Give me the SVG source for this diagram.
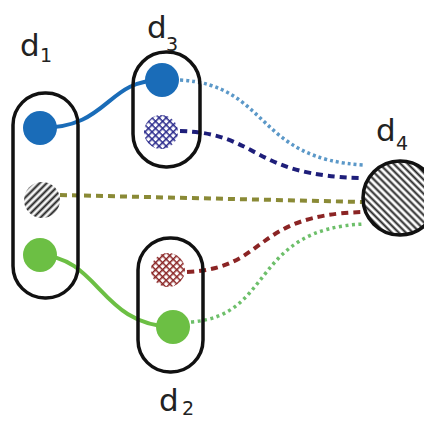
<svg xmlns="http://www.w3.org/2000/svg" width="424" height="421" viewBox="0 0 424 421">
<style>
.box{fill:none;stroke:#111;stroke-width:3.5}
.lbl{font-family:"DejaVu Sans",sans-serif;font-size:31px;fill:#222}
.sub{font-family:"DejaVu Sans",sans-serif;font-size:19px;fill:#222}
.c{fill:none}
</style>
<defs>
<pattern id="hatchR" width="5" height="5" patternUnits="userSpaceOnUse" patternTransform="rotate(-45)">
<rect width="5" height="5" fill="#f4f4f4"/>
<line x1="0" y1="2.5" x2="5" y2="2.5" stroke="#222" stroke-width="2"/>
</pattern>
<pattern id="hatchL" width="5" height="5" patternUnits="userSpaceOnUse" patternTransform="rotate(45)">
<rect width="5" height="5" fill="#fff"/>
<line x1="0" y1="2.5" x2="5" y2="2.5" stroke="#222" stroke-width="2"/>
</pattern>
<pattern id="xNavy" width="5" height="5" patternUnits="userSpaceOnUse" patternTransform="rotate(45)">
<rect width="5" height="5" fill="#fff"/>
<line x1="0" y1="0" x2="5" y2="0" stroke="#26268a" stroke-width="3"/>
<line x1="0" y1="0" x2="0" y2="5" stroke="#26268a" stroke-width="3"/>
</pattern>
<pattern id="xRed" width="5" height="5" patternUnits="userSpaceOnUse" patternTransform="rotate(45)">
<rect width="5" height="5" fill="#fff"/>
<line x1="0" y1="0" x2="5" y2="0" stroke="#8a2424" stroke-width="3"/>
<line x1="0" y1="0" x2="0" y2="5" stroke="#8a2424" stroke-width="3"/>
</pattern>
</defs>
<rect width="424" height="421" fill="#fff"/>
<g id="connectors">
<path class="c" d="M40 128 C110 128 105 80 162 80" stroke="#1a6cb8" stroke-width="4"/>
<path class="c" d="M40 255 C100 258 100 325 173 327" stroke="#6cbf44" stroke-width="4"/>
<path class="c" d="M180 80 C270 85 255 160 365 165" stroke="#5b98c8" stroke-width="3.5" stroke-dasharray="3 3"/>
<path class="c" d="M180 131 C260 133 250 176 363 178" stroke="#1e1e7a" stroke-width="4" stroke-dasharray="7 5"/>
<path class="c" d="M60 195 L363 202" stroke="#8a8a36" stroke-width="4" stroke-dasharray="7 5"/>
<path class="c" d="M187 272 C270 268 250 215 363 212" stroke="#8b2424" stroke-width="4" stroke-dasharray="7 5"/>
<path class="c" d="M191 322 C275 316 250 228 365 224" stroke="#6dbf6a" stroke-width="3.5" stroke-dasharray="3 3.5"/>
</g>
<g id="d1">
<rect class="box" x="13" y="93" width="65" height="205" rx="32" ry="32"/>
<circle cx="40" cy="128" r="17" fill="#1a6cb8"/>
<circle cx="42" cy="200" r="18" fill="url(#hatchR)"/>
<circle cx="40" cy="255" r="17" fill="#6cbf44"/>
<text class="lbl" x="20" y="56">d</text><text class="sub" x="40" y="62">1</text>
</g>
<g id="d3">
<rect class="box" x="133" y="52" width="67" height="115" rx="33" ry="33"/>
<circle cx="162" cy="80" r="17" fill="#1a6cb8"/>
<circle cx="161" cy="132" r="17" fill="url(#xNavy)"/>
<text class="lbl" x="147" y="38">d</text><text class="sub" x="166" y="51">3</text>
</g>
<g id="d2">
<rect class="box" x="138" y="238" width="65" height="134" rx="32" ry="32"/>
<circle cx="168" cy="270" r="17" fill="url(#xRed)"/>
<circle cx="173" cy="327" r="17" fill="#6cbf44"/>
<text class="lbl" x="159" y="411">d</text><text class="sub" x="182" y="415">2</text>
</g>
<g id="d4">
<circle cx="400" cy="198" r="37" fill="url(#hatchL)" stroke="#111" stroke-width="3.5"/>
<text class="lbl" x="376" y="141">d</text><text class="sub" x="396" y="150">4</text>
</g>
</svg>
